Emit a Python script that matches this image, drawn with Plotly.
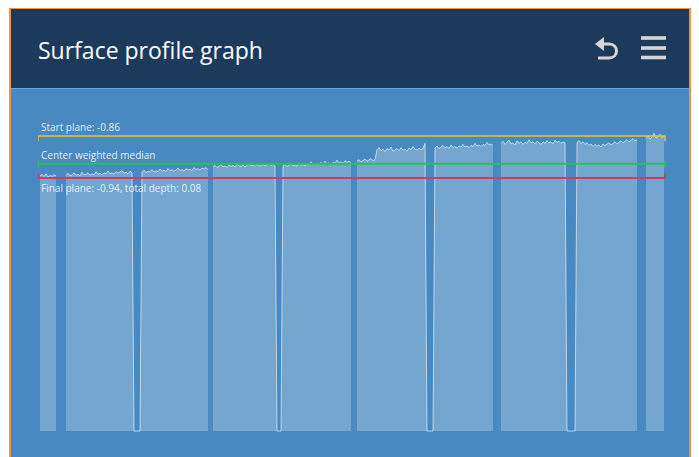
import plotly.graph_objects as go

# window size and the page's default body margin
WIN_W, WIN_H = 699, 457
OFF = 8
W, H = WIN_W - OFF, WIN_H - OFF

# ---------------- data (depth values in µm) ----------------
start_plane = -860
final_plane = -940
median_plane = -913
baseline = -1422
plane_x0, plane_x1 = 0, 627
sample_step = 2
run_starts = [2, 28, 175, 319, 463, 608]

seg1 = [-936, -933, -937, -932, -938, -935, -937, -934, -936]
seg2 = [-935, -931, -936, -934, -930, -935, -933, -936, -929, -934, -933, -930, -935, -932, -934, -928, -933,
        -931, -934, -930, -932, -927, -932, -930, -933, -928, -931, -929, -926, -931, -929, -932, -927, -930]
dip_b = [-1422, -1422, -1422, -1422]
seg3 = [-929, -925, -930, -927, -928, -924, -929, -926, -928, -923, -927, -925, -928, -922, -926, -924, -927,
        -925, -921, -926, -924, -927, -922, -925, -923, -926, -920, -924, -922, -925, -921, -923, -920, -924]
seg4 = [-919, -916, -920, -918, -914, -919, -917, -920, -915, -918, -916, -919, -913, -917, -918, -915,
        -919, -916, -912, -917, -915, -918, -914, -916, -918, -913, -917, -915, -912, -916, -914, -917]
dip_c = [-1422, -1422, -1422]
seg5 = [-917, -914, -918, -916, -912, -917, -915, -918, -911, -916, -914, -917, -913, -915, -909, -914, -912,
        -915, -913, -910, -914, -908, -913, -911, -914, -910, -912, -906, -911, -909, -912, -907, -910, -908, -911]
seg6 = [-908, -905, -909, -906, -904, -908, -906, -903, -907, -905,
        -886, -882, -888, -885, -890, -884, -887, -881, -889, -886, -884, -888, -882, -887, -885, -889, -883,
        -886, -880, -885, -887, -883, -886, -884, -874]
dip_d = [-1422, -1422, -1422, -1422]
seg7 = [-883, -879, -884, -881, -878, -883, -880, -884, -877, -882, -880, -883, -879, -881, -876, -881, -879,
        -882, -878, -880, -874, -879, -877, -880, -876, -878, -872, -877, -875, -878]
seg8 = [-874, -870, -876, -872, -868, -875, -873, -877, -869, -874, -871, -876, -872, -874, -867, -873, -871,
        -875, -870, -873, -876, -871, -874, -869, -873, -871, -875, -868, -872, -870, -874, -871, -873]
dip_e = [-1422, -1422, -1422, -1422, -1422]
seg9 = [-872, -869, -874, -871, -876, -873, -878, -875, -880, -876, -879, -877, -881, -875, -878, -876, -873,
        -877, -874, -871, -875, -872, -869, -873, -870, -867, -871, -868, -865, -869, -867]
seg10 = [-865, -859, -866, -862, -855, -864, -861, -857, -863, -860]

runs = [seg1, seg2 + dip_b + seg3, seg4 + dip_c + seg5, seg6 + dip_d + seg7, seg8 + dip_e + seg9, seg10]

labels = ["Start plane: -0.86", "Center weighted median", "Final plane: -0.94, total depth: 0.08"]
title_text = "Surface profile graph"

# ---------------- styling helpers (window pixel -> paper) ----------------
def px(x):
    return (x - OFF) / W

def py(y):
    return 1 - (y - OFF) / H

FONT = "Open Sans, Noto Sans, sans-serif"
NAVY = "#1B3A5C"
BLUE = "#4789C0"
ORANGE = "#F5923E"

fig = go.Figure()

for start, vals in zip(run_starts, runs):
    xs = [start + i * sample_step for i in range(len(vals))]
    fig.add_trace(go.Scatter(x=xs, y=[baseline] * len(vals), mode="lines",
                             line=dict(width=0, color="rgba(0,0,0,0)"), hoverinfo="skip", showlegend=False))
    fig.add_trace(go.Scatter(x=xs, y=vals, mode="lines", fill="tonexty",
                             fillcolor="rgba(255,255,255,0.25)",
                             line=dict(width=1, color="rgba(255,255,255,0.6)"),
                             hoverinfo="skip", showlegend=False))

# plane lines with end ticks
fig.add_trace(go.Scatter(x=[plane_x0, plane_x0, plane_x1, plane_x1],
                         y=[start_plane - 10, start_plane, start_plane, start_plane - 10],
                         mode="lines", line=dict(color="#E9C52C", width=1.5), showlegend=False, hoverinfo="skip"))
fig.add_trace(go.Scatter(x=[plane_x0, plane_x0, plane_x0, plane_x1, plane_x1, plane_x1],
                         y=[median_plane - 6, median_plane + 6, median_plane, median_plane, median_plane + 6, median_plane - 6],
                         mode="lines", line=dict(color="#25C455", width=2), showlegend=False, hoverinfo="skip"))
fig.add_trace(go.Scatter(x=[plane_x0, plane_x0, plane_x1, plane_x1],
                         y=[final_plane + 8, final_plane, final_plane, final_plane + 8],
                         mode="lines", line=dict(color="#C9405E", width=2), showlegend=False, hoverinfo="skip"))

lab_font = dict(family=FONT, size=10, color="rgba(240,246,252,0.95)")
fig.add_annotation(x=plane_x0, y=start_plane, text=labels[0], showarrow=False, xanchor="left", yanchor="bottom",
                   xshift=1, yshift=0, font=lab_font)
fig.add_annotation(x=plane_x0, y=median_plane, text=labels[1], showarrow=False, xanchor="left", yanchor="bottom",
                   xshift=1, yshift=0, font=lab_font)
fig.add_annotation(x=plane_x0, y=final_plane, text=labels[2], showarrow=False, xanchor="left", yanchor="top",
                   xshift=1, yshift=-1, font=lab_font)

# title
fig.add_annotation(xref="paper", yref="paper", x=px(36), y=py(50), text=title_text, showarrow=False,
                   xanchor="left", yanchor="middle", font=dict(family=FONT, size=23, color="white"))

shapes = [
    dict(type="rect", xref="paper", yref="paper", x0=px(9), x1=px(691), y0=py(470), y1=py(7),
         fillcolor=ORANGE, line=dict(width=0), layer="below"),
    dict(type="rect", xref="paper", yref="paper", x0=px(11), x1=px(689), y0=py(470), y1=py(9),
         fillcolor=BLUE, line=dict(width=0), layer="below"),
    dict(type="rect", xref="paper", yref="paper", x0=px(11), x1=px(689), y0=py(88), y1=py(9),
         fillcolor=NAVY, line=dict(width=0), layer="below"),
    dict(type="line", xref="paper", yref="paper", x0=px(11), x1=px(689), y0=py(88.5), y1=py(88.5),
         line=dict(color="#6EA3D2", width=1), layer="below"),
]
# hamburger icon
for yc in (38, 48, 57.5):
    shapes.append(dict(type="rect", xref="paper", yref="paper", x0=px(641), x1=px(666), y0=py(yc + 1.8),
                       y1=py(yc - 1.8), fillcolor="#D6D6D6", line=dict(width=0)))
# undo icon
def P(x, y):
    return f"{px(x):.5f},{py(y):.5f}"
shapes.append(dict(type="path", xref="paper", yref="paper",
                   path=f"M{P(595,44)} L{P(604,37)} L{P(604,51)} Z",
                   fillcolor="#D6D6D6", line=dict(width=0)))
shapes.append(dict(type="path", xref="paper", yref="paper",
                   path=f"M{P(603,44)} L{P(609,44)} C{P(619,44)} {P(619,58)} {P(609,58)} L{P(598,58)}",
                   line=dict(color="#D6D6D6", width=3)))

y_range = [-1430, -780]
top_px = 94.0
units_per_px = 80 / 42
bot_px = top_px + (y_range[1] - y_range[0]) / units_per_px

fig.update_layout(
    width=W, height=H, margin=dict(l=0, r=0, t=0, b=0),
    paper_bgcolor="white", plot_bgcolor="rgba(0,0,0,0)",
    shapes=shapes, showlegend=False,
    xaxis=dict(visible=False, domain=[px(38), px(666)], range=[0, 628], fixedrange=True),
    yaxis=dict(visible=False, domain=[py(bot_px), py(top_px)], range=y_range, fixedrange=True),
)

fig.write_html("out.html", config={"displayModeBar": False})
